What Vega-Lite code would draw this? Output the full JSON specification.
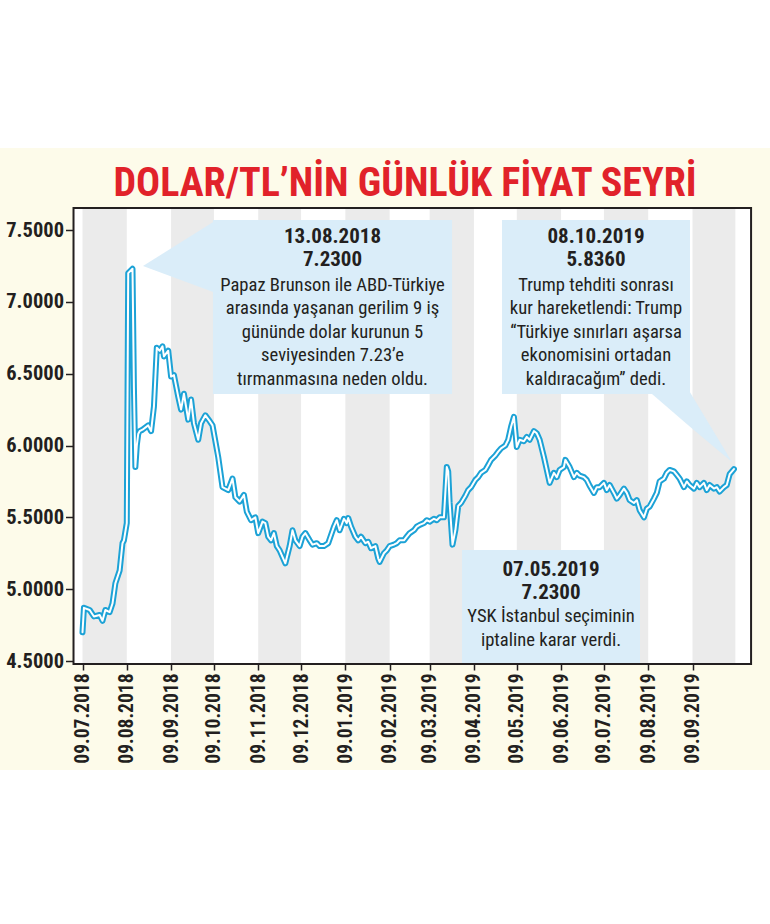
{
  "$schema": "https://vega.github.io/schema/vega-lite/v6.json",
  "width": 770,
  "height": 622,
  "autosize": {"type": "none"},
  "padding": {"top": 148, "left": 0, "right": 0, "bottom": 154},
  "background": "#ffffff",
  "view": {"fill": "#fdfbea", "stroke": null},
  "title": {
    "text": "DOLAR/TL’NİN GÜNLÜK FİYAT SEYRİ",
    "font": "Roboto Condensed, Liberation Sans Narrow, DejaVu Sans Condensed, sans-serif",
    "fontSize": 40,
    "fontWeight": "bold",
    "color": "#e1222a",
    "anchor": "middle",
    "frame": "group",
    "baseline": "alphabetic",
    "offset": -49,
    "dx": 20,
    "dy": 39
  },
  "datasets": {
    "fx": [
      {"date": "2018-07-09", "usdtry": 4.70},
      {"date": "2018-07-10", "usdtry": 4.87},
      {"date": "2018-07-14", "usdtry": 4.855},
      {"date": "2018-07-17", "usdtry": 4.81},
      {"date": "2018-07-21", "usdtry": 4.82},
      {"date": "2018-07-23", "usdtry": 4.78},
      {"date": "2018-07-25", "usdtry": 4.855},
      {"date": "2018-07-28", "usdtry": 4.84},
      {"date": "2018-07-30", "usdtry": 4.90},
      {"date": "2018-08-01", "usdtry": 5.04},
      {"date": "2018-08-04", "usdtry": 5.13},
      {"date": "2018-08-06", "usdtry": 5.32},
      {"date": "2018-08-07", "usdtry": 5.34},
      {"date": "2018-08-09", "usdtry": 5.46},
      {"date": "2018-08-10", "usdtry": 7.20},
      {"date": "2018-08-13", "usdtry": 7.23},
      {"date": "2018-08-14", "usdtry": 6.40},
      {"date": "2018-08-15", "usdtry": 5.85},
      {"date": "2018-08-16", "usdtry": 6.00},
      {"date": "2018-08-17", "usdtry": 6.08},
      {"date": "2018-08-18", "usdtry": 6.10},
      {"date": "2018-08-20", "usdtry": 6.11},
      {"date": "2018-08-24", "usdtry": 6.14},
      {"date": "2018-08-26", "usdtry": 6.10},
      {"date": "2018-08-28", "usdtry": 6.27},
      {"date": "2018-08-30", "usdtry": 6.68},
      {"date": "2018-09-01", "usdtry": 6.66},
      {"date": "2018-09-03", "usdtry": 6.69},
      {"date": "2018-09-04", "usdtry": 6.62},
      {"date": "2018-09-07", "usdtry": 6.66},
      {"date": "2018-09-09", "usdtry": 6.48},
      {"date": "2018-09-11", "usdtry": 6.49},
      {"date": "2018-09-14", "usdtry": 6.34},
      {"date": "2018-09-16", "usdtry": 6.25},
      {"date": "2018-09-18", "usdtry": 6.36},
      {"date": "2018-09-21", "usdtry": 6.18},
      {"date": "2018-09-23", "usdtry": 6.32},
      {"date": "2018-09-25", "usdtry": 6.155},
      {"date": "2018-09-28", "usdtry": 6.04},
      {"date": "2018-09-30", "usdtry": 6.155},
      {"date": "2018-10-03", "usdtry": 6.21},
      {"date": "2018-10-06", "usdtry": 6.17},
      {"date": "2018-10-08", "usdtry": 6.14},
      {"date": "2018-10-12", "usdtry": 5.92},
      {"date": "2018-10-15", "usdtry": 5.71},
      {"date": "2018-10-19", "usdtry": 5.69},
      {"date": "2018-10-22", "usdtry": 5.77},
      {"date": "2018-10-24", "usdtry": 5.64},
      {"date": "2018-10-27", "usdtry": 5.61},
      {"date": "2018-10-30", "usdtry": 5.656},
      {"date": "2018-11-01", "usdtry": 5.54},
      {"date": "2018-11-04", "usdtry": 5.48},
      {"date": "2018-11-07", "usdtry": 5.50},
      {"date": "2018-11-09", "usdtry": 5.39},
      {"date": "2018-11-12", "usdtry": 5.47},
      {"date": "2018-11-14", "usdtry": 5.46},
      {"date": "2018-11-16", "usdtry": 5.365},
      {"date": "2018-11-18", "usdtry": 5.34},
      {"date": "2018-11-20", "usdtry": 5.39},
      {"date": "2018-11-22", "usdtry": 5.30},
      {"date": "2018-11-24", "usdtry": 5.27},
      {"date": "2018-11-26", "usdtry": 5.225},
      {"date": "2018-11-28", "usdtry": 5.18},
      {"date": "2018-12-01", "usdtry": 5.30},
      {"date": "2018-12-03", "usdtry": 5.41},
      {"date": "2018-12-05", "usdtry": 5.34},
      {"date": "2018-12-08", "usdtry": 5.30},
      {"date": "2018-12-10", "usdtry": 5.365},
      {"date": "2018-12-12", "usdtry": 5.39},
      {"date": "2018-12-15", "usdtry": 5.34},
      {"date": "2018-12-17", "usdtry": 5.31},
      {"date": "2018-12-20", "usdtry": 5.32},
      {"date": "2018-12-22", "usdtry": 5.30},
      {"date": "2018-12-25", "usdtry": 5.30},
      {"date": "2018-12-28", "usdtry": 5.32},
      {"date": "2019-01-01", "usdtry": 5.435},
      {"date": "2019-01-03", "usdtry": 5.48},
      {"date": "2019-01-05", "usdtry": 5.41},
      {"date": "2019-01-08", "usdtry": 5.49},
      {"date": "2019-01-10", "usdtry": 5.46},
      {"date": "2019-01-11", "usdtry": 5.495},
      {"date": "2019-01-13", "usdtry": 5.435},
      {"date": "2019-01-16", "usdtry": 5.365},
      {"date": "2019-01-18", "usdtry": 5.34},
      {"date": "2019-01-20", "usdtry": 5.365},
      {"date": "2019-01-23", "usdtry": 5.32},
      {"date": "2019-01-25", "usdtry": 5.33},
      {"date": "2019-01-27", "usdtry": 5.285},
      {"date": "2019-01-30", "usdtry": 5.30},
      {"date": "2019-02-01", "usdtry": 5.215},
      {"date": "2019-02-02", "usdtry": 5.19},
      {"date": "2019-02-05", "usdtry": 5.25},
      {"date": "2019-02-07", "usdtry": 5.27},
      {"date": "2019-02-09", "usdtry": 5.30},
      {"date": "2019-02-12", "usdtry": 5.31},
      {"date": "2019-02-14", "usdtry": 5.32},
      {"date": "2019-02-16", "usdtry": 5.34},
      {"date": "2019-02-19", "usdtry": 5.34},
      {"date": "2019-02-21", "usdtry": 5.365},
      {"date": "2019-02-23", "usdtry": 5.39},
      {"date": "2019-02-26", "usdtry": 5.41},
      {"date": "2019-02-28", "usdtry": 5.435},
      {"date": "2019-03-02", "usdtry": 5.447},
      {"date": "2019-03-05", "usdtry": 5.46},
      {"date": "2019-03-07", "usdtry": 5.48},
      {"date": "2019-03-09", "usdtry": 5.47},
      {"date": "2019-03-12", "usdtry": 5.49},
      {"date": "2019-03-14", "usdtry": 5.48},
      {"date": "2019-03-16", "usdtry": 5.50},
      {"date": "2019-03-19", "usdtry": 5.50},
      {"date": "2019-03-21", "usdtry": 5.85},
      {"date": "2019-03-22", "usdtry": 5.82},
      {"date": "2019-03-23", "usdtry": 5.60},
      {"date": "2019-03-25", "usdtry": 5.31},
      {"date": "2019-03-27", "usdtry": 5.41},
      {"date": "2019-03-29", "usdtry": 5.58},
      {"date": "2019-03-31", "usdtry": 5.60},
      {"date": "2019-04-03", "usdtry": 5.65},
      {"date": "2019-04-05", "usdtry": 5.69},
      {"date": "2019-04-07", "usdtry": 5.71},
      {"date": "2019-04-10", "usdtry": 5.76},
      {"date": "2019-04-12", "usdtry": 5.78},
      {"date": "2019-04-14", "usdtry": 5.81},
      {"date": "2019-04-17", "usdtry": 5.83},
      {"date": "2019-04-19", "usdtry": 5.865},
      {"date": "2019-04-21", "usdtry": 5.90},
      {"date": "2019-04-24", "usdtry": 5.93},
      {"date": "2019-04-26", "usdtry": 5.957},
      {"date": "2019-04-28", "usdtry": 5.98},
      {"date": "2019-05-01", "usdtry": 6.00},
      {"date": "2019-05-03", "usdtry": 6.04},
      {"date": "2019-05-05", "usdtry": 6.13},
      {"date": "2019-05-07", "usdtry": 6.20},
      {"date": "2019-05-09", "usdtry": 5.99},
      {"date": "2019-05-11", "usdtry": 6.04},
      {"date": "2019-05-14", "usdtry": 6.03},
      {"date": "2019-05-16", "usdtry": 6.06},
      {"date": "2019-05-18", "usdtry": 6.04},
      {"date": "2019-05-21", "usdtry": 6.10},
      {"date": "2019-05-23", "usdtry": 6.085},
      {"date": "2019-05-25", "usdtry": 6.04},
      {"date": "2019-05-28", "usdtry": 5.92},
      {"date": "2019-05-30", "usdtry": 5.83},
      {"date": "2019-06-01", "usdtry": 5.74},
      {"date": "2019-06-04", "usdtry": 5.81},
      {"date": "2019-06-06", "usdtry": 5.78},
      {"date": "2019-06-08", "usdtry": 5.83},
      {"date": "2019-06-11", "usdtry": 5.85},
      {"date": "2019-06-12", "usdtry": 5.90},
      {"date": "2019-06-15", "usdtry": 5.85},
      {"date": "2019-06-18", "usdtry": 5.78},
      {"date": "2019-06-20", "usdtry": 5.81},
      {"date": "2019-06-22", "usdtry": 5.79},
      {"date": "2019-06-25", "usdtry": 5.78},
      {"date": "2019-06-27", "usdtry": 5.76},
      {"date": "2019-06-29", "usdtry": 5.72},
      {"date": "2019-07-02", "usdtry": 5.67},
      {"date": "2019-07-04", "usdtry": 5.71},
      {"date": "2019-07-06", "usdtry": 5.71},
      {"date": "2019-07-09", "usdtry": 5.74},
      {"date": "2019-07-11", "usdtry": 5.69},
      {"date": "2019-07-13", "usdtry": 5.725},
      {"date": "2019-07-16", "usdtry": 5.67},
      {"date": "2019-07-18", "usdtry": 5.63},
      {"date": "2019-07-20", "usdtry": 5.655},
      {"date": "2019-07-23", "usdtry": 5.70},
      {"date": "2019-07-25", "usdtry": 5.67},
      {"date": "2019-07-27", "usdtry": 5.62},
      {"date": "2019-07-30", "usdtry": 5.60},
      {"date": "2019-08-01", "usdtry": 5.62},
      {"date": "2019-08-03", "usdtry": 5.55},
      {"date": "2019-08-06", "usdtry": 5.50},
      {"date": "2019-08-08", "usdtry": 5.56},
      {"date": "2019-08-10", "usdtry": 5.575},
      {"date": "2019-08-13", "usdtry": 5.63},
      {"date": "2019-08-15", "usdtry": 5.67},
      {"date": "2019-08-17", "usdtry": 5.75},
      {"date": "2019-08-20", "usdtry": 5.77},
      {"date": "2019-08-22", "usdtry": 5.81},
      {"date": "2019-08-24", "usdtry": 5.83},
      {"date": "2019-08-27", "usdtry": 5.82},
      {"date": "2019-08-29", "usdtry": 5.795},
      {"date": "2019-08-31", "usdtry": 5.77},
      {"date": "2019-09-03", "usdtry": 5.71},
      {"date": "2019-09-05", "usdtry": 5.75},
      {"date": "2019-09-07", "usdtry": 5.725},
      {"date": "2019-09-10", "usdtry": 5.70},
      {"date": "2019-09-12", "usdtry": 5.74},
      {"date": "2019-09-14", "usdtry": 5.71},
      {"date": "2019-09-17", "usdtry": 5.74},
      {"date": "2019-09-19", "usdtry": 5.69},
      {"date": "2019-09-21", "usdtry": 5.725},
      {"date": "2019-09-24", "usdtry": 5.70},
      {"date": "2019-09-26", "usdtry": 5.71},
      {"date": "2019-09-28", "usdtry": 5.68},
      {"date": "2019-10-01", "usdtry": 5.71},
      {"date": "2019-10-03", "usdtry": 5.725},
      {"date": "2019-10-05", "usdtry": 5.80},
      {"date": "2019-10-08", "usdtry": 5.836}
    ],
    "bands": [
      {"start": "2018-07-09", "end": "2018-08-09"},
      {"start": "2018-09-09", "end": "2018-10-09"},
      {"start": "2018-11-09", "end": "2018-12-09"},
      {"start": "2019-01-09", "end": "2019-02-09"},
      {"start": "2019-03-09", "end": "2019-04-09"},
      {"start": "2019-05-09", "end": "2019-06-09"},
      {"start": "2019-07-09", "end": "2019-08-09"},
      {"start": "2019-09-09", "end": "2019-10-09"}
    ],
    "boxes": [
      {"start": "2018-10-08T08:00:00Z", "end": "2019-03-24T16:00:00Z", "top": 7.5696, "bottom": 6.3585},
      {"start": "2019-04-28T16:00:00Z", "end": "2019-09-07T06:00:00Z", "top": 7.5696, "bottom": 6.3585},
      {"start": "2019-03-31T16:00:00Z", "end": "2019-08-03T06:00:00Z", "top": 5.2727, "bottom": 4.479}
    ],
    "pointers": [
      {"id": "p1", "date": "2018-08-20T08:00:00Z", "top": 7.2494, "bottom": 7.2494},
      {"id": "p1", "date": "2018-10-08T12:00:00Z", "top": 7.5557, "bottom": 7.0685},
      {"id": "p2", "date": "2019-08-10T06:00:00Z", "top": 6.37, "bottom": 6.37},
      {"id": "p2", "date": "2019-09-07T06:00:00Z", "top": 6.37, "bottom": 6.1312},
      {"id": "p2", "date": "2019-10-06T16:00:00Z", "top": 5.8852, "bottom": 5.8852}
    ],
    "notes": [
      {"date": "2018-12-31T00:00:00Z", "headY": 7.5313, "bodyY": 7.1826,
       "head": ["13.08.2018", "7.2300"],
       "body": ["Papaz Brunson ile ABD-Türkiye", "arasında yaşanan gerilim 9 iş", "gününde dolar kurunun  5", "seviyesinden 7.23’e", "tırmanmasına neden oldu."]},
      {"date": "2019-07-03T11:00:00Z", "headY": 7.5313, "bodyY": 7.1826,
       "head": ["08.10.2019", "5.8360"],
       "body": ["Trump tehditi sonrası", "kur hareketlendi: Trump", "“Türkiye sınırları aşarsa", "ekonomisini ortadan", "kaldıracağım” dedi."]},
      {"date": "2019-06-01T23:00:00Z", "headY": 5.2114, "bodyY": 4.8738,
       "head": ["07.05.2019", "7.2300"],
       "body": ["YSK İstanbul seçiminin", "iptaline karar verdi."]}
    ]
  },
  "layer": [
    {
      "data": {"values": [{}]},
      "mark": {"type": "rect", "color": "#ffffff"},
      "encoding": {
        "x": {"datum": {"year": 2018, "month": 7, "date": 2, "hours": 17, "utc": true}, "type": "temporal"},
        "x2": {"datum": {"year": 2019, "month": 10, "date": 20, "utc": true}},
        "y": {"datum": 7.653, "type": "quantitative"},
        "y2": {"datum": 4.479}
      }
    },
    {
      "data": {"name": "bands"},
      "mark": {"type": "rect", "color": "#ebebeb"},
      "encoding": {
        "x": {"field": "start", "type": "temporal"},
        "x2": {"field": "end"},
        "y": {"datum": 7.653, "type": "quantitative"},
        "y2": {"datum": 4.479}
      }
    },
    {
      "data": {"name": "boxes"},
      "mark": {"type": "rect", "color": "#daedf9"},
      "encoding": {
        "x": {"field": "start", "type": "temporal"},
        "x2": {"field": "end"},
        "y": {"field": "top", "type": "quantitative"},
        "y2": {"field": "bottom"}
      }
    },
    {
      "data": {"name": "pointers"},
      "mark": {"type": "area", "color": "#daedf9", "opacity": 1},
      "encoding": {
        "x": {"field": "date", "type": "temporal"},
        "y": {"field": "top", "type": "quantitative"},
        "y2": {"field": "bottom"},
        "detail": {"field": "id"}
      }
    },
    {
      "data": {"name": "fx"},
      "mark": {"type": "line", "color": "#1ca2d6", "strokeWidth": 6, "strokeJoin": "round", "strokeCap": "round"},
      "encoding": {
        "x": {
          "field": "date",
          "type": "temporal",
          "scale": {"type": "utc", "domain": [{"year": 2018, "month": 5, "date": 12, "hours": 6, "utc": true}, {"year": 2019, "month": 11, "date": 2, "hours": 6, "utc": true}]},
          "axis": {
            "values": [
              {"year": 2018, "month": 7, "date": 9, "utc": true},
              {"year": 2018, "month": 8, "date": 9, "utc": true},
              {"year": 2018, "month": 9, "date": 9, "utc": true},
              {"year": 2018, "month": 10, "date": 9, "utc": true},
              {"year": 2018, "month": 11, "date": 9, "utc": true},
              {"year": 2018, "month": 12, "date": 9, "utc": true},
              {"year": 2019, "month": 1, "date": 9, "utc": true},
              {"year": 2019, "month": 2, "date": 9, "utc": true},
              {"year": 2019, "month": 3, "date": 9, "utc": true},
              {"year": 2019, "month": 4, "date": 9, "utc": true},
              {"year": 2019, "month": 5, "date": 9, "utc": true},
              {"year": 2019, "month": 6, "date": 9, "utc": true},
              {"year": 2019, "month": 7, "date": 9, "utc": true},
              {"year": 2019, "month": 8, "date": 9, "utc": true},
              {"year": 2019, "month": 9, "date": 9, "utc": true}
            ],
            "labelExpr": "utcFormat(datum.value, '%d.%m.%Y')",
            "labelAngle": -90,
            "labelFont": "Roboto Condensed, Liberation Sans Narrow, DejaVu Sans Condensed, sans-serif",
            "labelFontSize": 19.5,
            "labelFontWeight": "bold",
            "labelColor": "#231f20",
            "labelPadding": 3,
            "labelOverlap": false,
            "labelFlush": false,
            "labelBound": false,
            "tickColor": "#231f20",
            "tickSize": 6,
            "tickWidth": 1.5,
            "domain": false,
            "grid": false,
            "title": null,
            "offset": -106,
            "zindex": 2
          }
        },
        "y": {
          "field": "usdtry",
          "type": "quantitative",
          "scale": {"domain": [3.7413, 8.0708], "nice": false, "zero": false},
          "axis": {
            "values": [4.5, 5, 5.5, 6, 6.5, 7, 7.5],
            "format": ".4f",
            "labelFont": "Roboto Condensed, Liberation Sans Narrow, DejaVu Sans Condensed, sans-serif",
            "labelFontSize": 20.5,
            "labelFontWeight": "bold",
            "labelColor": "#231f20",
            "labelPadding": 2,
            "labelOverlap": false,
            "labelFlush": false,
            "tickColor": "#231f20",
            "tickSize": 8,
            "tickWidth": 1.5,
            "domain": false,
            "grid": false,
            "title": null,
            "offset": -73.5,
            "zindex": 2
          }
        }
      }
    },
    {
      "data": {"name": "fx"},
      "mark": {"type": "line", "color": "#ffffff", "strokeWidth": 2, "strokeJoin": "round", "strokeCap": "round"},
      "encoding": {
        "x": {"field": "date", "type": "temporal"},
        "y": {"field": "usdtry", "type": "quantitative"}
      }
    },
    {
      "data": {"name": "notes"},
      "mark": {"type": "text", "font": "Roboto Condensed, Liberation Sans Narrow, DejaVu Sans Condensed, sans-serif", "fontSize": 21, "fontWeight": "bold", "color": "#231f20", "align": "center", "baseline": "top", "lineHeight": 23.5},
      "encoding": {
        "x": {"field": "date", "type": "temporal"},
        "y": {"field": "headY", "type": "quantitative"},
        "text": {"field": "head"}
      }
    },
    {
      "data": {"name": "notes"},
      "mark": {"type": "text", "font": "Roboto Condensed, Liberation Sans Narrow, DejaVu Sans Condensed, sans-serif", "fontSize": 18.6, "color": "#231f20", "align": "center", "baseline": "top", "lineHeight": 23.5},
      "encoding": {
        "x": {"field": "date", "type": "temporal"},
        "y": {"field": "bodyY", "type": "quantitative"},
        "text": {"field": "body"}
      }
    },
    {
      "data": {"values": [{}]},
      "mark": {"type": "rect", "filled": false, "stroke": "#231f20", "strokeWidth": 2},
      "encoding": {
        "x": {"datum": {"year": 2018, "month": 7, "date": 2, "hours": 17, "utc": true}, "type": "temporal"},
        "x2": {"datum": {"year": 2019, "month": 10, "date": 20, "utc": true}},
        "y": {"datum": 7.653, "type": "quantitative"},
        "y2": {"datum": 4.479}
      }
    }
  ]
}
